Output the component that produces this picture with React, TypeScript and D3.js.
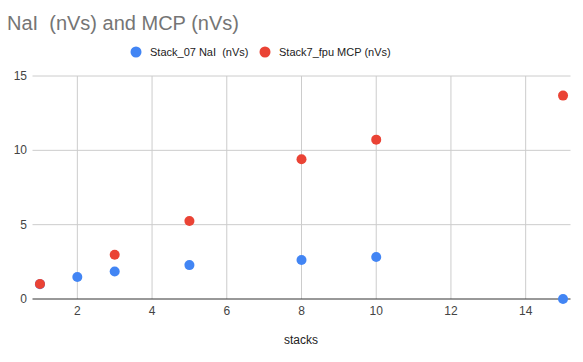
import * as d3 from 'd3';
import { useEffect, useRef } from 'react';

const stacksNaI = [1, 2, 3, 5, 8, 10, 15];
const valuesNaI = [1.0, 1.48, 1.85, 2.28, 2.62, 2.82, 0];
const stacksMCP = [1, 3, 5, 8, 10, 15];
const valuesMCP = [1.01, 2.98, 5.25, 9.4, 10.72, 13.68];
const xTicks = [2, 4, 6, 8, 10, 12, 14];
const yTicks = [0, 5, 10, 15];
const seriesNames = ['Stack_07 NaI  (nVs)', 'Stack7_fpu MCP (nVs)'];
const seriesColors = ['#4285f4', '#ea4335'];

const W = 583;
const H = 362;

export default function App() {
    const ref = useRef<SVGSVGElement>(null);

    useEffect(() => {
        const svg = d3.select(ref.current);
        svg.selectAll('*').remove();

        const font = 'Arial, "Liberation Sans", sans-serif';

        const x = d3.scaleLinear().domain([0.8, 15.2]).range([32.5, 570.5]);
        const y = d3.scaleLinear().domain([0, 15]).range([299, 76]);

        svg.append('rect').attr('width', W).attr('height', H).attr('fill', '#fff');

        // title
        svg.append('text')
            .attr('x', 7)
            .attr('y', 30)
            .attr('font-family', font)
            .attr('font-size', 20)
            .attr('fill', '#757575')
            .style('white-space', 'pre')
            .text('NaI  (nVs) and MCP (nVs)');

        // legend
        const legendX = [136, 265];
        const legend = svg.append('g');
        seriesNames.forEach((name, i) => {
            legend.append('circle')
                .attr('cx', legendX[i])
                .attr('cy', 52)
                .attr('r', 5.5)
                .attr('fill', seriesColors[i]);
            legend.append('text')
                .attr('x', legendX[i] + 14)
                .attr('y', 56)
                .attr('font-family', font)
                .attr('font-size', 11)
                .attr('fill', '#222')
                .style('white-space', 'pre')
                .text(name);
        });

        // gridlines
        const grid = svg.append('g');
        grid.selectAll('line.v')
            .data(xTicks)
            .enter()
            .append('line')
            .attr('x1', d => x(d))
            .attr('x2', d => x(d))
            .attr('y1', y(15))
            .attr('y2', y(0))
            .attr('stroke', '#cccccc')
            .attr('stroke-width', 1);
        grid.selectAll('line.h')
            .data(yTicks.filter(d => d !== 0))
            .enter()
            .append('line')
            .attr('x1', x(0.8))
            .attr('x2', x(15.2))
            .attr('y1', d => y(d))
            .attr('y2', d => y(d))
            .attr('stroke', '#cccccc')
            .attr('stroke-width', 1);

        // x labels
        svg.append('g')
            .selectAll('text')
            .data(xTicks)
            .enter()
            .append('text')
            .attr('x', d => x(d))
            .attr('y', 315)
            .attr('text-anchor', 'middle')
            .attr('font-family', font)
            .attr('font-size', 12)
            .attr('fill', '#444')
            .text(d => d);

        // y labels
        svg.append('g')
            .selectAll('text')
            .data(yTicks)
            .enter()
            .append('text')
            .attr('x', 27)
            .attr('y', d => y(d) + 4)
            .attr('text-anchor', 'end')
            .attr('font-family', font)
            .attr('font-size', 12)
            .attr('fill', '#444')
            .text(d => d);

        // baseline
        svg.append('line')
            .attr('x1', x(0.8))
            .attr('x2', x(15.2))
            .attr('y1', y(0))
            .attr('y2', y(0))
            .attr('stroke', '#333')
            .attr('stroke-width', 1);

        // axis title
        svg.append('text')
            .attr('x', 301)
            .attr('y', 344)
            .attr('text-anchor', 'middle')
            .attr('font-family', font)
            .attr('font-size', 12)
            .attr('fill', '#222')
            .text('stacks');

        // points
        const seriesData = [
            stacksNaI.map((s, i) => ({ x: s, y: valuesNaI[i] })),
            stacksMCP.map((s, i) => ({ x: s, y: valuesMCP[i] })),
        ];
        seriesData.forEach((data, i) => {
            svg.append('g')
                .selectAll('circle')
                .data(data)
                .enter()
                .append('circle')
                .attr('cx', d => x(d.x))
                .attr('cy', d => y(d.y))
                .attr('r', 5)
                .attr('fill', seriesColors[i]);
        });
    }, []);

    return (
        <svg
            ref={ref}
            width={W}
            height={H}
            style={{ position: 'absolute', left: 0, top: 0, display: 'block' }}
        />
    );
}
